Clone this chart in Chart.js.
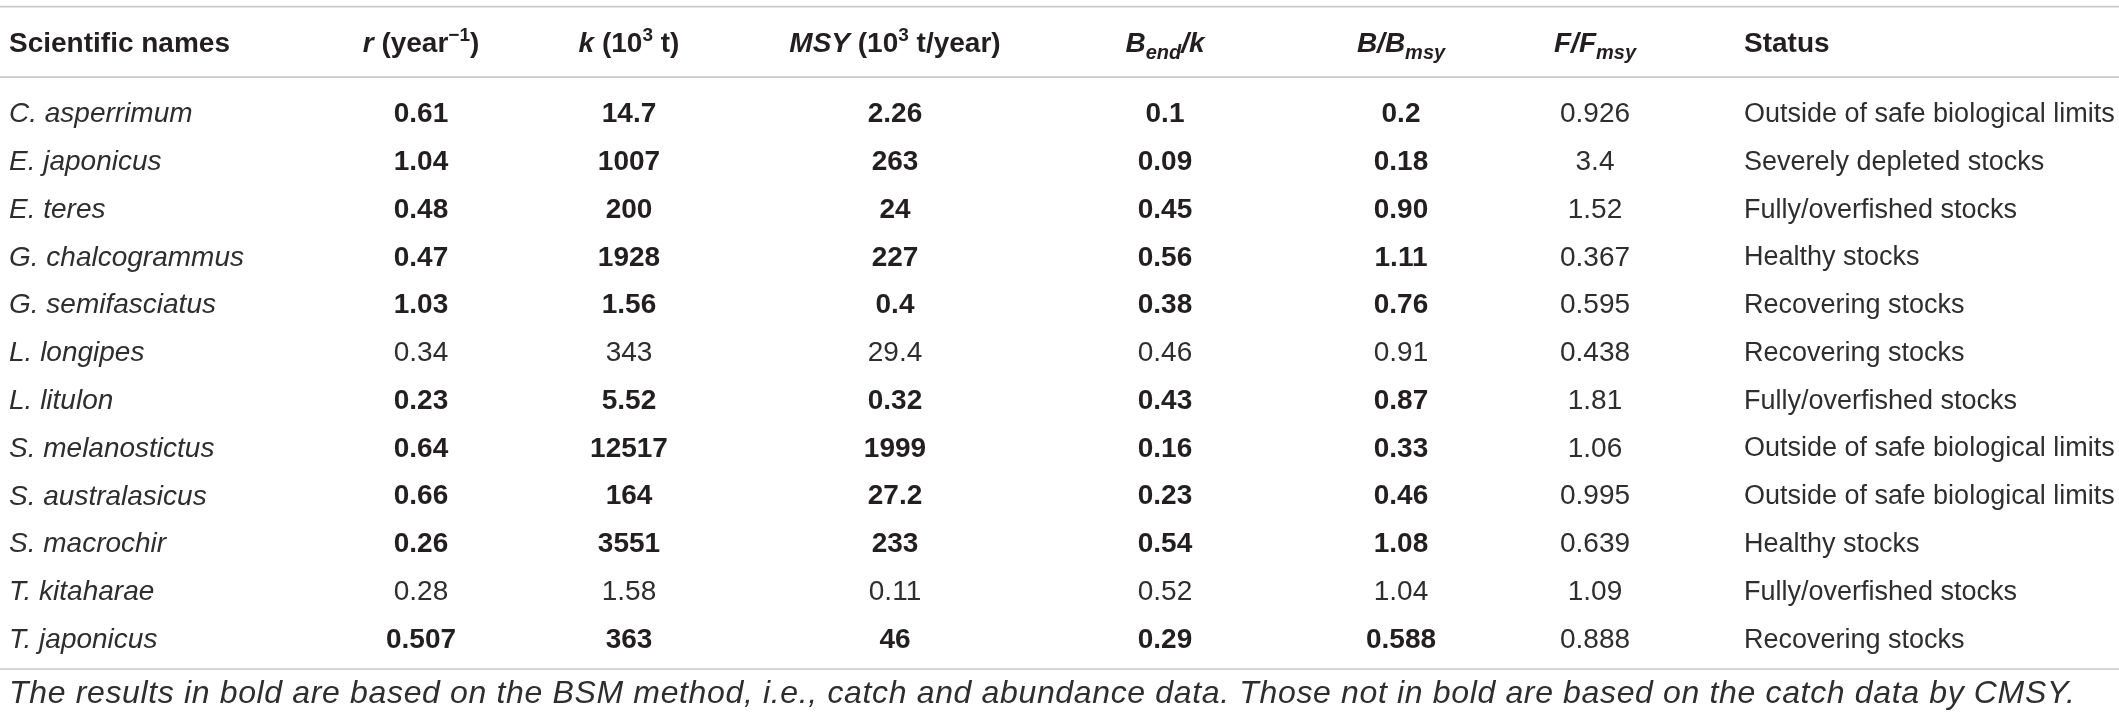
<!DOCTYPE html>
<html>
<head>
<meta charset="utf-8">
<script src="https://cdn.jsdelivr.net/npm/chart.js@4.4.0/dist/chart.umd.min.js"></script>
<style>
  html, body { margin: 0; padding: 0; background: #ffffff; }
  #wrap { width: 2119px; height: 719px; position: relative; }
</style>
</head>
<body>
<div id="wrap"><canvas id="c"></canvas></div>
<script>
// ---------------- DATA ----------------
const species = ['C. asperrimum', 'E. japonicus', 'E. teres', 'G. chalcogrammus', 'G. semifasciatus',
  'L. longipes', 'L. litulon', 'S. melanostictus', 'S. australasicus', 'S. macrochir', 'T. kitaharae', 'T. japonicus'];
const rValues = ['0.61', '1.04', '0.48', '0.47', '1.03', '0.34', '0.23', '0.64', '0.66', '0.26', '0.28', '0.507'];
const kValues = ['14.7', '1007', '200', '1928', '1.56', '343', '5.52', '12517', '164', '3551', '1.58', '363'];
const msyValues = ['2.26', '263', '24', '227', '0.4', '29.4', '0.32', '1999', '27.2', '233', '0.11', '46'];
const bendKValues = ['0.1', '0.09', '0.45', '0.56', '0.38', '0.46', '0.43', '0.16', '0.23', '0.54', '0.52', '0.29'];
const bBmsyValues = ['0.2', '0.18', '0.90', '1.11', '0.76', '0.91', '0.87', '0.33', '0.46', '1.08', '1.04', '0.588'];
const fFmsyValues = ['0.926', '3.4', '1.52', '0.367', '0.595', '0.438', '1.81', '1.06', '0.995', '0.639', '1.09', '0.888'];
const statusValues = ['Outside of safe biological limits', 'Severely depleted stocks', 'Fully/overfished stocks',
  'Healthy stocks', 'Recovering stocks', 'Recovering stocks', 'Fully/overfished stocks',
  'Outside of safe biological limits', 'Outside of safe biological limits', 'Healthy stocks',
  'Fully/overfished stocks', 'Recovering stocks'];
// true = result from BSM (bold), false = CMSY (regular)
const bsmMethod = [true, true, true, true, true, false, true, true, true, true, false, true];
const footnote = 'The results in bold are based on the BSM method, i.e., catch and abundance data. Those not in bold are based on the catch data by CMSY.';
// header labels (rich text segments: b = bold, i = italic, s = sup/sub)
const headerName = [{t: 'Scientific names', b: 1}];
const headerR = [{t: 'r', b: 1, i: 1}, {t: ' (year', b: 1}, {t: '\u22121', b: 1, s: 'sup'}, {t: ')', b: 1}];
const headerK = [{t: 'k', b: 1, i: 1}, {t: ' (10', b: 1}, {t: '3', b: 1, s: 'sup'}, {t: ' t)', b: 1}];
const headerMsy = [{t: 'MSY', b: 1, i: 1}, {t: ' (10', b: 1}, {t: '3', b: 1, s: 'sup'}, {t: ' t/year)', b: 1}];
const headerBendK = [{t: 'B', b: 1, i: 1}, {t: 'end', b: 1, i: 1, s: 'sub'}, {t: '/k', b: 1, i: 1}];
const headerBBmsy = [{t: 'B/B', b: 1, i: 1}, {t: 'msy', b: 1, i: 1, s: 'sub'}];
const headerFFmsy = [{t: 'F/F', b: 1, i: 1}, {t: 'msy', b: 1, i: 1, s: 'sub'}];
const headerStatus = [{t: 'Status', b: 1}];

// ---------------- LAYOUT (positions / styles) ----------------
const FONT = '"Liberation Sans", Arial, sans-serif';
const FS = 28;
const TEXT_COLOR = '#231f20';
const REGULAR_COLOR = '#2e2e2e';
const RULE_COLOR = '#c9c9c9';
const colX = {name: 9, r: 421, k: 629, msy: 895, bend: 1165, bb: 1401, ff: 1595, status: 1744};

const columns = [
  {key: 'name', values: species, header: headerName, align: 'left', italic: true, size: 28, boldRule: () => false},
  {key: 'r', values: rValues, header: headerR, align: 'center', size: 28, boldRule: i => bsmMethod[i]},
  {key: 'k', values: kValues, header: headerK, align: 'center', size: 28, boldRule: i => bsmMethod[i]},
  {key: 'msy', values: msyValues, header: headerMsy, align: 'center', size: 28, boldRule: i => bsmMethod[i]},
  {key: 'bend', values: bendKValues, header: headerBendK, align: 'center', size: 28, boldRule: i => bsmMethod[i]},
  {key: 'bb', values: bBmsyValues, header: headerBBmsy, align: 'center', size: 28, boldRule: i => bsmMethod[i]},
  {key: 'ff', values: fFmsyValues, header: headerFFmsy, align: 'center', size: 28, boldRule: () => false},
  {key: 'status', values: statusValues, header: headerStatus, align: 'left', size: 27, boldRule: () => false}
];

function fontStr(bold, italic, size) {
  return (italic ? 'italic ' : '') + (bold ? 'bold ' : '') + size + 'px ' + FONT;
}

function segSize(seg) { return seg.s === 'sup' ? 19 : (seg.s === 'sub' ? 20 : FS); }

function drawRich(ctx, segs, x, yCenter, align) {
  let total = 0;
  segs.forEach(sg => { ctx.font = fontStr(sg.b, sg.i, segSize(sg)); total += ctx.measureText(sg.t).width; });
  let cx = align === 'center' ? x - total / 2 : x;
  const base = yCenter + 10;
  ctx.textAlign = 'left';
  ctx.textBaseline = 'alphabetic';
  segs.forEach(sg => {
    ctx.font = fontStr(sg.b, sg.i, segSize(sg));
    let dy = 0;
    if (sg.s === 'sup') dy = -11;
    if (sg.s === 'sub') dy = 7;
    ctx.fillText(sg.t, cx, base + dy);
    cx += ctx.measureText(sg.t).width;
  });
}

const tablePlugin = {
  id: 'tablePlugin',
  afterDatasetsDraw(chart) {
    const ctx = chart.ctx;
    const area = chart.chartArea;
    const xs = chart.scales.x;
    ctx.save();
    ctx.fillStyle = TEXT_COLOR;
    // rules
    ctx.strokeStyle = RULE_COLOR;
    ctx.lineWidth = 1.6;
    const rules = [area.top - 83, area.top - 12.5, area.bottom + 6];
    rules.forEach(y => {
      ctx.beginPath();
      ctx.moveTo(xs.left, y);
      ctx.lineTo(xs.right, y);
      ctx.stroke();
    });
    // header
    columns.forEach(col => {
      drawRich(ctx, col.header, xs.getPixelForValue(colX[col.key]), area.top - 47.5, col.align);
    });
    // cells
    chart.data.datasets.forEach((ds, d) => {
      const col = columns[d];
      const meta = chart.getDatasetMeta(d);
      meta.data.forEach((pt, i) => {
        const bold = col.boldRule(i);
        ctx.font = fontStr(bold, col.italic, col.size);
        ctx.fillStyle = bold ? TEXT_COLOR : REGULAR_COLOR;
        ctx.textAlign = col.align;
        ctx.textBaseline = 'middle';
        ctx.fillText(col.values[i], pt.x, pt.y + 1);
      });
    });
    // footnote
    ctx.fillStyle = REGULAR_COLOR;
    ctx.font = fontStr(false, true, 32);
    if ('letterSpacing' in ctx) ctx.letterSpacing = '0.65px';
    ctx.textAlign = 'left';
    ctx.textBaseline = 'middle';
    ctx.fillText(footnote, xs.getPixelForValue(colX.name), area.bottom + 31);
    if ('letterSpacing' in ctx) ctx.letterSpacing = '0px';
    ctx.restore();
  }
};

const chart = new Chart(document.getElementById('c'), {
  type: 'scatter',
  data: {
    datasets: columns.map(col => ({
      label: col.key,
      data: species.map((s, i) => ({x: colX[col.key], y: s})),
      pointRadius: 0,
      pointHoverRadius: 0,
      showLine: false
    }))
  },
  options: {
    responsive: true,
    maintainAspectRatio: false,
    animation: false,
    events: [],
    layout: {padding: {left: 0, right: 0, top: 89.6, bottom: 56}},
    plugins: {legend: {display: false}, tooltip: {enabled: false}},
    scales: {
      x: {type: 'linear', min: 0, max: 2119, display: false},
      y: {type: 'category', labels: species, offset: true, display: false}
    }
  },
  plugins: [tablePlugin]
});
</script>
</body>
</html>
